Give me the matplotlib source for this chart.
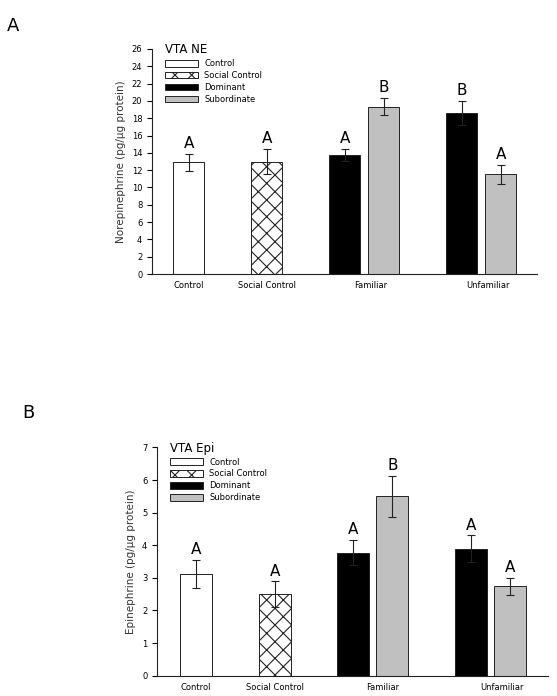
import matplotlib
matplotlib.use('Agg')
import matplotlib.pyplot as plt

plt.rcParams['font.family'] = ['DejaVu Sans']
plt.rcParams['hatch.linewidth'] = 0.8

groups = ['Control', 'Social Control', 'Dominant', 'Subordinate']
categories = ['Control', 'Social Control', 'Familiar', 'Unfamiliar']

# bar order: Control, Social Control, Familiar Dom, Familiar Sub, Unfamiliar Dom, Unfamiliar Sub
bar_groups = ['Control', 'Social Control', 'Dominant', 'Subordinate', 'Dominant', 'Subordinate']

ne_mean = [12.9, 13.0, 13.8, 19.35, 18.6, 11.5]
ne_err = [1.0, 1.5, 0.7, 1.0, 1.4, 1.15]
ne_letters = ['A', 'A', 'A', 'B', 'B', 'A']

epi_mean = [3.12, 2.50, 3.77, 5.50, 3.90, 2.74]
epi_err = [0.43, 0.39, 0.39, 0.63, 0.40, 0.27]
epi_letters = ['A', 'A', 'A', 'B', 'A', 'A']

bar_pos = [1, 3, 5, 6, 8, 9]
styles = {
    'Control': dict(color='white', hatch=None),
    'Social Control': dict(color='white', hatch='xx'),
    'Dominant': dict(color='black', hatch=None),
    'Subordinate': dict(color='#c0c0c0', hatch=None),
}


def draw_panel(ax, means, errs, letters, ymax, ystep, title, ylabel, xlim, label_pos, bw):
    for g in groups:
        idx = [i for i, b in enumerate(bar_groups) if b == g]
        ax.bar([bar_pos[i] for i in idx], [means[i] for i in idx], width=bw,
               color=styles[g]['color'], hatch=styles[g]['hatch'],
               edgecolor='#222222', linewidth=0.7, label=g, zorder=2)
    ax.errorbar(bar_pos, means, yerr=errs, fmt='none', ecolor='#222222',
                elinewidth=0.8, capsize=3, capthick=0.8, zorder=3)
    for x, m, e, t in zip(bar_pos, means, errs, letters):
        ax.annotate(t, (x, m + e), xytext=(0, 2), textcoords='offset points',
                    ha='center', va='bottom', fontsize=11)
    ax.set_xlim(xlim)
    ax.set_ylim(0, ymax)
    ax.set_yticks(range(0, ymax + 1, ystep))
    ax.set_xticks(label_pos)
    ax.set_xticklabels(categories, fontsize=6)
    ax.tick_params(axis='x', length=0, pad=5)
    ax.tick_params(axis='y', labelsize=6, length=3.5, width=0.8, direction='out')
    for s in ['top', 'right']:
        ax.spines[s].set_visible(False)
    for s in ['left', 'bottom']:
        ax.spines[s].set_linewidth(0.8)
        ax.spines[s].set_color('#222222')
    ax.set_ylabel(ylabel, fontsize=7.5, color='#333333')
    ax.legend(title=title, loc='upper left', bbox_to_anchor=(0.025, 1.04),
              frameon=False, fontsize=6, title_fontsize=8.5, alignment='left',
              handlelength=4.0, handleheight=0.8, labelspacing=0.35,
              handletextpad=0.7, borderaxespad=0)


fig = plt.figure(figsize=(5.57, 6.96), dpi=100)

ax1 = fig.add_axes([0.273, 0.6063, 0.691, 0.3233])
draw_panel(ax1, ne_mean, ne_err, ne_letters, 26, 2, 'VTA NE',
           'Norepinephrine (pg/\u00b5g protein)', (0.06, 9.93),
           [1, 3, 5.67, 8.67], 0.8)

ax2 = fig.add_axes([0.2819, 0.0292, 0.702, 0.3279])
draw_panel(ax2, epi_mean, epi_err, epi_letters, 7, 1, 'VTA Epi',
           'Epinephrine (pg/\u00b5g protein)', (0.0, 9.97),
           [1, 3, 5.75, 8.8], 0.81)

fig.text(0.012, 0.975, 'A', fontsize=13, va='top')
fig.text(0.04, 0.42, 'B', fontsize=13, va='top')

fig.savefig('out.png', dpi=100)
